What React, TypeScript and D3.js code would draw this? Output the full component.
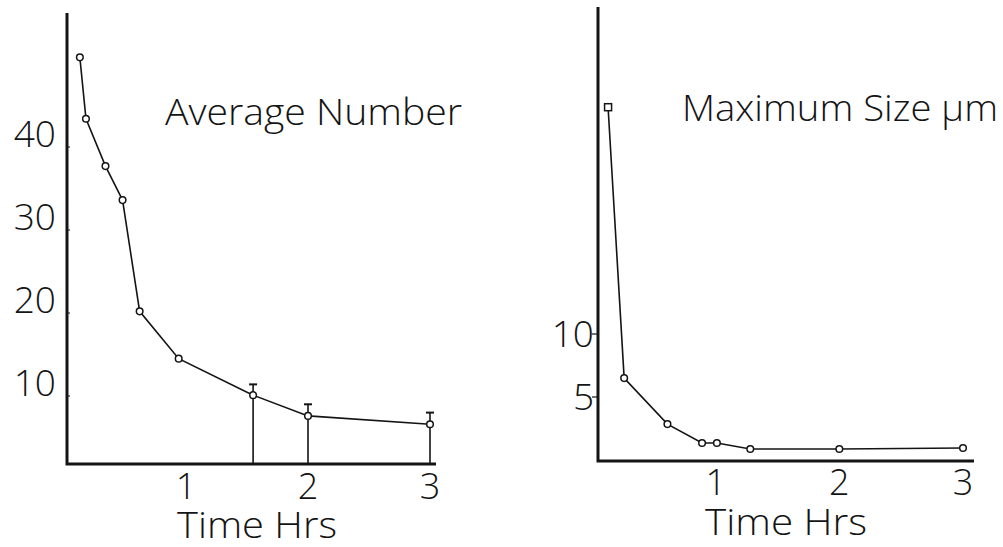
import React from 'react';
import * as d3 from 'd3';

// values
const avgHours = [0.13, 0.18, 0.34, 0.48, 0.62, 0.94, 1.55, 2, 3];
const avgNumber = [50.8, 43.4, 37.7, 33.6, 20.2, 14.5, 10.1, 7.6, 6.6];
const errHours = [1.55, 2, 3];
const errTop = [11.4, 9.0, 8.0];

const maxHours = [0.13, 0.26, 0.61, 0.89, 1.01, 1.28, 2, 3];
const maxSize = [28.0, 6.5, 2.85, 1.35, 1.35, 0.87, 0.87, 0.95];

const avgTicks = [10, 20, 30, 40];
const maxTicks = [5, 10];
const hourTicks = [1, 2, 3];

const FONT = "'Open Sans', 'DejaVu Sans', sans-serif";
const INK = '#141414';

function App() {
  // left panel
  const xL = d3.scaleLinear().domain([0, 3]).range([64, 430]);
  const yL = d3.scaleLinear().domain([10, 40]).range([396, 147]);
  const axisL = { x: 67, top: 13, bottom: 464, right: 436 };

  // right panel
  const xR = d3.scaleLinear().domain([0, 3]).range([592, 963]);
  const yR = d3.scaleLinear().domain([0, 10]).range([460, 334]);
  const axisR = { x: 598, top: 7, bottom: 461, right: 974 };

  const lineL = d3.line<number>().x((d, i) => xL(avgHours[i])).y(d => yL(d));
  const lineR = d3.line<number>().x((d, i) => xR(maxHours[i])).y(d => yR(d));

  const txt = { fontFamily: FONT, fontWeight: 350, fill: INK } as React.CSSProperties;

  return (
    <svg width={1003} height={547} style={{ position: 'absolute', left: 0, top: 0, background: '#fff' }}>
      {/* ---------- Average Number ---------- */}
      <g>
        <path d={`M${axisL.x},${axisL.top}V${axisL.bottom}H${axisL.right}`} fill="none" stroke={INK} strokeWidth={3} />
        {avgTicks.map(t => (
          <g key={t}>
            <line x1={axisL.x} x2={axisL.x + 3} y1={yL(t)} y2={yL(t)} stroke={INK} strokeWidth={1} />
            <text x={56} y={yL(t) - 13} dy="0.36em" textAnchor="end" fontSize={37} style={txt}>{t}</text>
          </g>
        ))}
        {hourTicks.map(t => (
          <text key={t} x={xL(t)} y={499} textAnchor="middle" fontSize={36} style={txt}>{t}</text>
        ))}
        <text x={177} y={538} fontSize={36} textLength={160} lengthAdjust="spacingAndGlyphs" style={txt}>Time  Hrs</text>
        <text x={165} y={125} fontSize={37} textLength={297} lengthAdjust="spacingAndGlyphs" style={txt}>Average  Number</text>

        {errHours.map((h, i) => (
          <g key={h}>
            <line x1={xL(h)} x2={xL(h)} y1={yL(errTop[i])} y2={axisL.bottom} stroke={INK} strokeWidth={1.6} />
            <line x1={xL(h) - 4} x2={xL(h) + 4} y1={yL(errTop[i])} y2={yL(errTop[i])} stroke={INK} strokeWidth={2} />
          </g>
        ))}
        <path d={lineL(avgNumber) || ''} fill="none" stroke={INK} strokeWidth={1.6} />
        {avgNumber.map((v, i) => (
          <circle key={i} cx={xL(avgHours[i])} cy={yL(v)} r={3.3} fill="#fff" stroke={INK} strokeWidth={1.5} />
        ))}
      </g>

      {/* ---------- Maximum Size ---------- */}
      <g>
        <path d={`M${axisR.x},${axisR.top}V${axisR.bottom}H${axisR.right}`} fill="none" stroke={INK} strokeWidth={3} />
        {maxTicks.map(t => (
          <g key={t}>
            <line x1={axisR.x - 6} x2={axisR.x} y1={yR(t)} y2={yR(t)} stroke={INK} strokeWidth={1.2} />
            <text x={594} y={yR(t)} dy="0.36em" textAnchor="end" fontSize={37} style={txt}>{t}</text>
          </g>
        ))}
        {hourTicks.map(t => (
          <text key={t} x={xR(t)} y={495} textAnchor="middle" fontSize={36} style={txt}>{t}</text>
        ))}
        <text x={705} y={535} fontSize={36} textLength={162} lengthAdjust="spacingAndGlyphs" style={txt}>Time  Hrs</text>
        <text x={682} y={121} fontSize={37} textLength={316} lengthAdjust="spacingAndGlyphs" style={txt}>Maximum  Size µm</text>

        <path d={lineR(maxSize) || ''} fill="none" stroke={INK} strokeWidth={1.6} />
        {maxSize.map((v, i) =>
          i === 0 ? (
            <rect key={i} x={xR(maxHours[i]) - 3.5} y={yR(v) - 3.5} width={7} height={7} fill="#fff" stroke={INK} strokeWidth={1.5} />
          ) : (
            <circle key={i} cx={xR(maxHours[i])} cy={yR(v)} r={3.3} fill="#fff" stroke={INK} strokeWidth={1.5} />
          )
        )}
      </g>
    </svg>
  );
}

export default App;
